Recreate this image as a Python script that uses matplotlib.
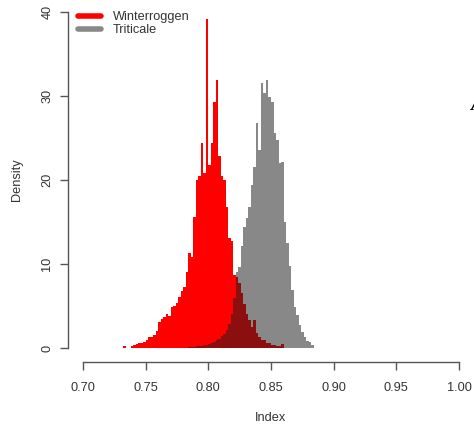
import numpy as np
import matplotlib
matplotlib.use("Agg")
import matplotlib.pyplot as plt
from matplotlib.lines import Line2D

plt.rcParams['font.family'] = ['Liberation Sans', 'DejaVu Sans']

# histogram bins (start and width), heights
bin_start = 0.730
bin_width = 0.002

winterroggen = [
    0.0, 0.2, 0.0, 0.0, 0.3, 0.4, 0.5, 0.6, 0.6, 0.7,
    0.9, 1.3, 1.3, 1.6, 2.0, 3.1, 3.4, 3.7, 4.0, 3.8,
    4.9, 5.0, 5.4, 6.1, 6.8, 7.3, 9.0, 11.3, 10.8, 15.6,
    20.0, 20.5, 24.4, 20.8, 39.2, 21.8, 24.4, 29.3, 31.9, 22.8,
    20.5, 20.0, 16.8, 13.1, 12.7, 8.7, 8.5, 7.7, 6.5, 5.3,
    4.1, 3.3, 2.5, 3.3, 1.8, 1.3, 1.0, 0.9, 0.6, 0.6,
    0.4, 0.4, 0.3, 0.3, 0.5, 0.0, 0.0, 0.0, 0.0, 0.0,
    0.0, 0.0, 0.0, 0.0, 0.0, 0.0, 0.0, 0.0,
]

triticale = [
    0.0, 0.0, 0.0, 0.0, 0.0, 0.0, 0.0, 0.0, 0.0, 0.0,
    0.0, 0.0, 0.0, 0.0, 0.0, 0.0, 0.0, 0.0, 0.0, 0.0,
    0.0, 0.0, 0.0, 0.0, 0.0, 0.0, 0.0, 0.1, 0.1, 0.15,
    0.2, 0.25, 0.3, 0.35, 0.4, 0.5, 0.6, 0.7, 0.9, 1.1,
    1.4, 1.7, 2.2, 2.9, 4.0, 6.0, 9.0, 9.7, 12.1, 14.4,
    15.5, 16.8, 19.4, 21.5, 26.8, 23.6, 31.5, 30.3, 31.9, 29.9,
    29.3, 25.6, 24.8, 22.0, 22.2, 15.0, 12.5, 9.8, 6.9, 4.9,
    3.9, 2.7, 1.9, 1.3, 0.8, 0.7, 0.35, 0.0,
]

labels = ["Winterroggen", "Triticale"]
x_ticks = [0.70, 0.75, 0.80, 0.85, 0.90, 0.95, 1.00]
y_ticks = [0, 10, 20, 30, 40]

red = "#ff0000"
grey = "#888888"
overlap_col = "#8c0f0f"
axis_col = "#555555"
text_col = "#333333"

red_v = np.array(winterroggen)
grey_v = np.array(triticale)
edges = np.round(bin_start + bin_width * np.arange(len(red_v) + 1), 3)

W, H = 474, 425
fig = plt.figure(figsize=(W / 100, H / 100), dpi=100)
ax = fig.add_axes([68 / W, 63.5 / H, 406 / W, 363 / H])

ax.stairs(red_v, edges, fill=True, color=red, linewidth=0)
ax.stairs(grey_v, edges, fill=True, color=grey, linewidth=0)
ax.stairs(np.minimum(red_v, grey_v), edges, fill=True, color=overlap_col, linewidth=0)

ax.set_xlim(0.688, 1.012)
ax.set_ylim(-1.6, 41.6)

for s in ["top", "right"]:
    ax.spines[s].set_visible(False)
ax.spines["left"].set_bounds(0, 40)
ax.spines["bottom"].set_bounds(0.70, 1.00)
for s in ["left", "bottom"]:
    ax.spines[s].set_color(axis_col)
    ax.spines[s].set_linewidth(1.0)

ax.set_xticks(x_ticks)
ax.set_xticklabels([f"{t:.2f}" for t in x_ticks])
ax.set_yticks(y_ticks)
ax.set_yticklabels([str(t) for t in y_ticks], rotation=90, va="center")
ax.tick_params(axis="both", length=5.5, width=1.0, color=axis_col,
               labelcolor=text_col, labelsize=9.2)
ax.tick_params(axis="x", pad=9)
ax.tick_params(axis="y", pad=5)

ax.set_xlabel("Index", fontsize=9.2, color=text_col, labelpad=13)
ax.set_ylabel("Density", fontsize=9.2, color=text_col, labelpad=13)

handles = [Line2D([], [], color=red, linewidth=4, solid_capstyle="round"),
           Line2D([], [], color=grey, linewidth=4, solid_capstyle="round")]
fig.legend(handles, labels, loc="upper left", bbox_to_anchor=(78 / W, 1 - 11 / H),
           frameon=False, borderpad=0, borderaxespad=0, handlelength=1.8,
           handletextpad=0.9, labelspacing=0.1, fontsize=9.2, labelcolor=text_col)

# cut-off letter at the right edge of the original picture
fig.text(470 / W, 1 - 110 / H, "A", fontsize=14, style="italic", weight="bold",
         family="Liberation Serif", color="black", ha="left", va="baseline")

fig.savefig("out.png", dpi=100)
